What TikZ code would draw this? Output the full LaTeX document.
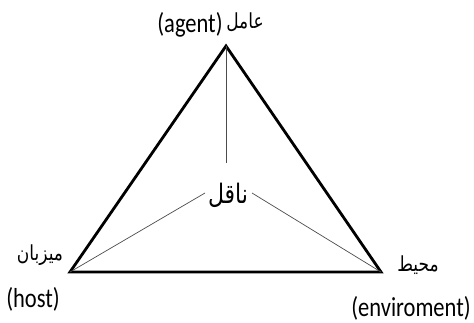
\documentclass[tikz,border=0pt]{standalone}
\usepackage{fontspec}
\setmainfont{Carlito}
\newfontfamily\arabicfont[Script=Arabic]{DejaVu Sans}
\TeXXeTstate=1
\newcommand{\tallstr}[1]{\scalebox{1}[1.22]{#1}}
\begin{document}
\begin{tikzpicture}[x=1pt,y=-1pt,
  lat/.style={inner sep=0pt,font=\fontsize{22.5}{26}\selectfont},
  ara/.style={inner sep=0pt,font=\arabicfont\fontsize{17}{20}\selectfont},
  edge/.style={line width=2.8pt,line join=miter},
  spoke/.style={line width=0.7pt,draw=black!70}]
\useasboundingbox (0,0) rectangle (474,323);
\coordinate (A) at (226,46);
\coordinate (H) at (70,272);
\coordinate (E) at (381,272);
\draw[edge] (A) -- (H) -- (E) -- cycle;
\node[ara,font=\arabicfont\fontsize{22}{26}\selectfont] (V) at (228,195) {\tallstr{\beginR ناقل\endR}};
\coordinate (Va) at (226,163);
\coordinate (Vh) at (205,193);
\coordinate (Ve) at (252,193);
\draw[spoke] (A) -- (Va);
\draw[spoke] (H) -- (Vh);
\draw[spoke] (E) -- (Ve);
\node[lat] (ag) at (190,25) {\tallstr{(agent)}};
\node[ara] (agf) at (245,22) {\tallstr{\beginR عامل\endR}};
\node[ara] (hf) at (40,255) {\tallstr{\beginR میزبان\endR}};
\node[lat] (ho) at (33,299) {\tallstr{(host)}};
\node[ara] (ef) at (418,265) {\tallstr{\beginR محیط\endR}};
\node[lat] (en) at (411,308) {\tallstr{(enviroment)}};
\end{tikzpicture}
\end{document}
